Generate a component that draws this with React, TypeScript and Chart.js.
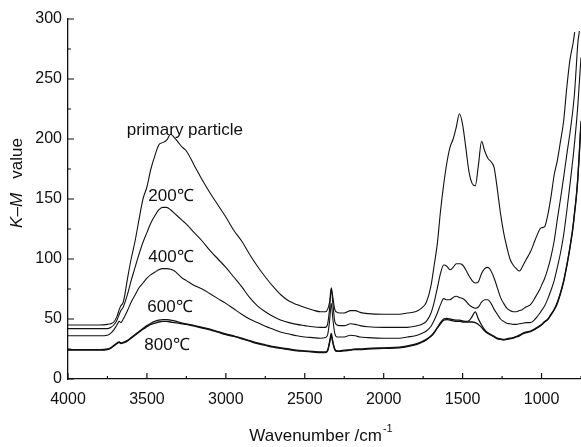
import React, { useEffect, useRef } from "react";
import { Chart, registerables } from "chart.js";

Chart.register(...registerables);

const WAVENUMBER = [4000, 3900, 3800, 3750, 3730, 3710, 3690, 3675, 3665, 3650, 3620, 3600, 3575, 3550, 3525, 3500, 3475, 3450, 3425, 3400, 3375, 3350, 3325, 3300, 3275, 3250, 3200, 3150, 3100, 3050, 3000, 2950, 2900, 2850, 2800, 2750, 2700, 2650, 2600, 2550, 2500, 2450, 2400, 2370, 2355, 2343, 2332, 2322, 2310, 2295, 2280, 2250, 2210, 2180, 2150, 2100, 2000, 1900, 1850, 1800, 1760, 1730, 1700, 1680, 1660, 1640, 1620, 1600, 1580, 1560, 1540, 1520, 1500, 1480, 1460, 1440, 1420, 1400, 1380, 1360, 1340, 1320, 1300, 1280, 1260, 1240, 1220, 1200, 1180, 1160, 1140, 1120, 1100, 1070, 1040, 1010, 1000, 980, 960, 940, 920, 900, 880, 860, 840, 820, 800, 790, 780, 770, 760, 750];

const PRIMARY = [45, 45, 45, 45.5, 46, 47.5, 52, 58, 61, 64, 86, 100, 115, 133, 150, 160, 175, 186, 195, 197, 199, 204, 201, 197, 193, 190, 178, 166, 155, 145, 135, 124, 115, 104, 94, 85, 77, 70, 65, 62, 59.5, 57.5, 56, 56, 58, 64, 76, 68, 58, 55.5, 55, 55, 57, 57, 55.5, 54.5, 54, 54, 55, 56, 59, 64, 78, 95, 113, 140, 162, 180, 193, 200, 210, 221, 212, 193, 173, 163, 161, 178, 198, 190, 184, 181, 176, 158, 138, 122, 110, 100, 95, 92, 90, 94, 99, 106, 116, 125, 126, 127, 137, 152, 170, 182, 198, 215, 243, 266, 280, 289, null, null, null, null];

const T200 = [42, 42, 42, 42, 43, 45, 49, 54, 57, 60, 72, 82, 93, 104, 114, 122, 130, 136, 141, 143, 143, 141, 138, 135, 132, 129, 122, 115, 107, 100, 93, 85, 77, 68, 61, 56, 52, 49, 47, 45.5, 44.5, 43.5, 43, 43, 46, 58, 75, 63, 48, 45, 44.5, 44.5, 46, 45.5, 44.5, 43.5, 43, 43, 43, 44, 45.5, 48, 55, 64, 76, 88, 95, 94, 91, 93, 96, 96, 95, 91, 86, 82, 80, 81, 88, 92, 93, 90, 84, 76, 68, 63, 59, 57, 56, 56, 57, 58, 60, 62, 68, 75, 78, 84, 92, 102, 115, 133, 150, 168, 187, 205, 226, 240, 260, 280, 290, null];

const T400 = [36, 36, 36, 36.5, 38, 41, 45, 48, 47, 50, 58, 64, 70, 76, 80, 84, 87, 89, 91, 92, 92, 91.5, 90, 87, 84, 82, 78, 75, 71, 67, 63, 58.5, 54, 50, 47, 44, 41.5, 39, 37.5, 36, 35, 34.5, 34, 34.5, 37, 48, 63, 50, 38, 35, 35, 35, 36.5, 36, 35, 34.5, 34, 34, 35, 36, 38, 40, 44, 49, 55, 62, 67, 66, 66, 68, 69, 68, 67, 65, 62, 60, 59, 60, 64, 66, 66, 63, 58, 54, 50, 48, 46.5, 46, 45.5, 45.5, 46, 46.5, 47, 47, 50, 55, 57, 61, 67, 74, 82, 93, 105, 120, 140, 162, 185, 198, 212, 228, 248, 268];

const T600 = [24.5, 24.5, 24.5, 25, 26, 28, 30, 31, 30, 30.5, 32.5, 34.5, 37, 39.5, 42, 44.5, 46.5, 48, 49, 49.5, 49.5, 49, 48.5, 47.5, 46.5, 46, 44.5, 43, 41.5, 39.5, 37.5, 36, 34, 32, 30, 28.5, 27, 26, 25, 24, 23.5, 23, 22.5, 22.5, 24, 31, 38, 31, 25, 23.5, 23.5, 24, 24.5, 25, 25, 25.5, 26, 26.5, 27.5, 29, 31, 33, 36, 39, 43, 47, 50, 50.5, 50, 49.5, 49, 49, 48.5, 48, 48.5, 52, 56, 50, 45, 41, 38.5, 37, 35.5, 34, 33.5, 33, 33.5, 34, 34.5, 35.5, 36.5, 38, 39, 40, 42, 44.5, 45.5, 48, 50, 54, 58, 64, 72, 82, 95, 110, 128, 140, 152, 168, 190, 215];

const T800 = [24, 24, 24, 24.5, 25.5, 27.5, 29.5, 30.5, 29.5, 30, 32, 34, 36.5, 39, 41.5, 43.5, 45.5, 46.5, 47.5, 48, 48, 47.5, 47, 46.5, 46, 45.5, 44, 42.5, 41, 39, 37, 35.5, 33.5, 31.5, 29.5, 28, 26.5, 25.5, 24.5, 23.5, 23, 22.5, 22, 22, 23.5, 30, 36, 30, 24.5, 23, 23, 23.5, 24, 24.5, 24.5, 25, 25.5, 26, 27, 28.5, 30.5, 32.5, 35.5, 38.5, 42.5, 46, 49, 49.5, 49, 48.5, 48, 48, 47.5, 47.5, 47.5, 47.5, 47, 45.5, 43, 40, 38, 36.5, 35, 33.5, 33, 32.5, 33, 33.5, 34, 35, 36, 37.5, 38.5, 39.5, 41.5, 44, 45, 47.5, 49.5, 53.5, 57.5, 63, 71, 81, 94, 109, 127, 139, 151, 167, 189, 213];

const SERIES_NAMES = ["primary particle", "200℃", "400℃", "600℃", "800℃"];
const SERIES_VALUES = [PRIMARY, T200, T400, T600, T800];
// label anchor positions in data units (wavenumber, K-M value)
const LABEL_X = [3260, 3348, 3348, 3354, 3373];
const LABEL_Y = [207, 152, 101, 60, 28];

const X_TICKS = [4000, 3500, 3000, 2500, 2000, 1500, 1000];
const X_MINOR = [3750, 3250, 2750, 2250, 1750, 1250, 750];
const Y_TICKS = [0, 50, 100, 150, 200, 250, 300];
const Y_MINOR = [25, 75, 125, 175, 225, 275];

const FONT = "'Liberation Sans', Arial, Helvetica, sans-serif";

const decorPlugin = {
  id: "decor",
  afterDatasetsDraw(chart: any) {
    const ctx = chart.ctx;
    const xs = chart.scales.x;
    const ys = chart.scales.y;
    const area = chart.chartArea;
    ctx.save();
    ctx.strokeStyle = "#111";
    ctx.lineWidth = 1.2;
    ctx.beginPath();
    X_TICKS.forEach((v) => {
      const px = xs.getPixelForValue(v);
      ctx.moveTo(px, area.bottom);
      ctx.lineTo(px, area.bottom - 6);
    });
    X_MINOR.forEach((v) => {
      const px = xs.getPixelForValue(v);
      ctx.moveTo(px, area.bottom);
      ctx.lineTo(px, area.bottom - 3);
    });
    Y_TICKS.forEach((v) => {
      const py = ys.getPixelForValue(v);
      ctx.moveTo(area.left, py);
      ctx.lineTo(area.left + 6, py);
    });
    Y_MINOR.forEach((v) => {
      const py = ys.getPixelForValue(v);
      ctx.moveTo(area.left, py);
      ctx.lineTo(area.left + 3, py);
    });
    ctx.stroke();

    // curve labels
    ctx.fillStyle = "#111";
    ctx.textAlign = "center";
    ctx.textBaseline = "middle";
    ctx.font = `17px ${FONT}`;
    SERIES_NAMES.forEach((name, i) => {
      ctx.fillText(name, xs.getPixelForValue(LABEL_X[i]), ys.getPixelForValue(LABEL_Y[i]));
    });

    // x title
    const main = "Wavenumber /cm";
    ctx.font = `17px ${FONT}`;
    const mw = ctx.measureText(main).width;
    ctx.font = `11px ${FONT}`;
    const sw = ctx.measureText("-1").width;
    const cx = (area.left + area.right) / 2 - 4;
    const ty = area.bottom + 56;
    const startX = cx - (mw + sw) / 2;
    ctx.textAlign = "left";
    ctx.textBaseline = "alphabetic";
    ctx.font = `17px ${FONT}`;
    ctx.fillText(main, startX, ty + 6);
    ctx.font = `11px ${FONT}`;
    ctx.fillText("-1", startX + mw + 1, ty - 3);

    // y title (rotated)
    ctx.translate(17, 183);
    ctx.rotate(-Math.PI / 2);
    const parts = [
      { t: "K", f: `italic 17px ${FONT}` },
      { t: "–", f: `17px ${FONT}` },
      { t: "M", f: `italic 17px ${FONT}` },
      { t: "   ", f: `17px ${FONT}` },
      { t: "value", f: `17px ${FONT}` },
    ];
    let total = 0;
    parts.forEach((p) => {
      ctx.font = p.f;
      total += ctx.measureText(p.t).width;
    });
    let px = -total / 2;
    ctx.textBaseline = "middle";
    parts.forEach((p) => {
      ctx.font = p.f;
      ctx.fillText(p.t, px, 0);
      px += ctx.measureText(p.t).width;
    });
    ctx.restore();
  },
};

export default function App() {
  const ref = useRef<HTMLCanvasElement | null>(null);
  useEffect(() => {
    if (!ref.current) return;
    const datasets = SERIES_VALUES.map((vals, i) => ({
      label: SERIES_NAMES[i],
      data: WAVENUMBER.map((x, j) => ({ x, y: vals[j] })),
      borderColor: "#111",
      borderWidth: i >= 3 ? 1.3 : 1.1,
      pointRadius: 0,
      fill: false,
      tension: 0,
      cubicInterpolationMode: "monotone" as const,
      spanGaps: false,
    }));
    const chart = new Chart(ref.current, {
      type: "line",
      data: { datasets },
      plugins: [decorPlugin],
      options: {
        animation: false,
        responsive: false,
        devicePixelRatio: 1,
        layout: { padding: { top: 19, right: 0, left: 0, bottom: 0 } },
        plugins: { legend: { display: false }, tooltip: { enabled: false } },
        scales: {
          x: {
            type: "linear",
            reverse: true,
            min: 750,
            max: 4000,
            afterBuildTicks: (s: any) => {
              s.ticks = X_TICKS.map((v) => ({ value: v }));
            },
            afterFit: (s: any) => {
              s.height = 68;
            },
            grid: { display: false, drawTicks: false },
            border: { display: true, color: "#111", width: 1.3 },
            ticks: {
              color: "#111",
              font: { family: FONT, size: 16 },
              padding: 11,
              maxRotation: 0,
              autoSkip: false,
              callback: (v: any) => String(v),
            },
          },
          y: {
            type: "linear",
            min: 0,
            max: 300,
            afterBuildTicks: (s: any) => {
              s.ticks = Y_TICKS.map((v) => ({ value: v }));
            },
            afterFit: (s: any) => {
              s.width = 68;
            },
            grid: { display: false, drawTicks: false },
            border: { display: true, color: "#111", width: 1.3 },
            ticks: {
              color: "#111",
              font: { family: FONT, size: 16 },
              padding: 6,
              autoSkip: false,
              callback: (v: any) => String(v),
            },
          },
        },
      },
    });
    return () => chart.destroy();
  }, []);
  return (
    <div style={{ position: "fixed", left: 0, top: 0, width: 581, height: 447, background: "#fff" }}>
      <canvas ref={ref} width={581} height={447} style={{ display: "block" }} />
    </div>
  );
}
